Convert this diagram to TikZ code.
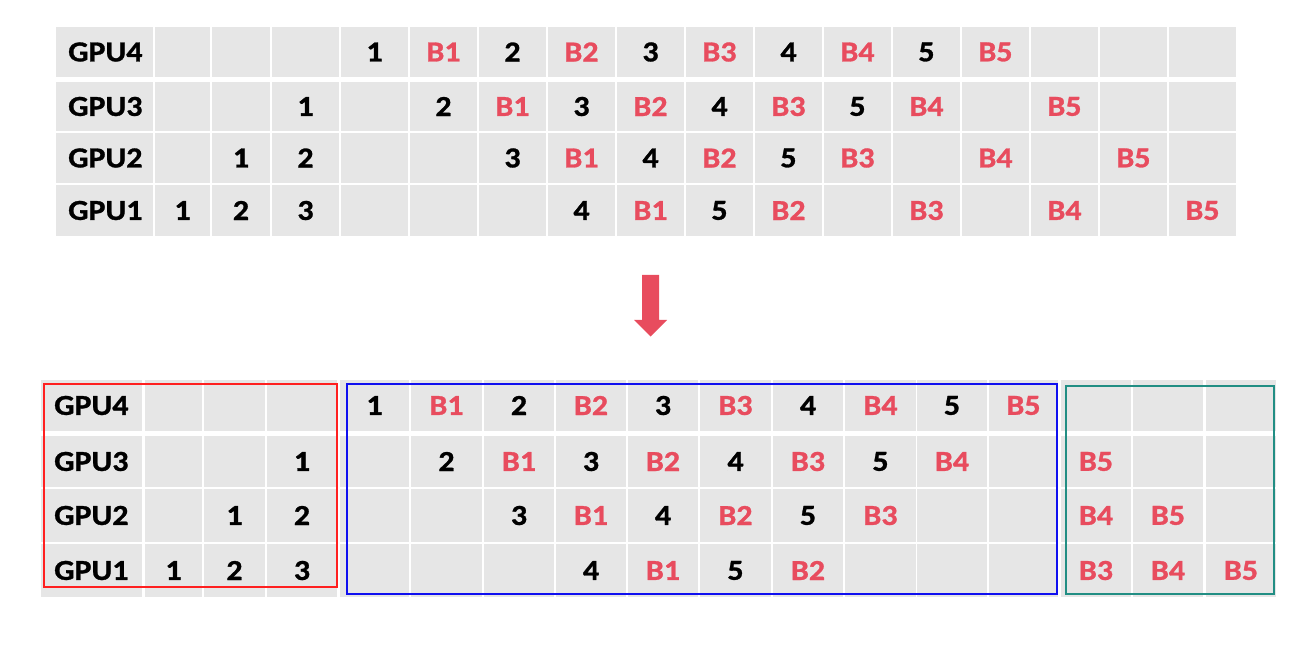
\documentclass[tikz,border=0pt]{standalone}
\usepackage{fontspec}
\setmainfont{Carlito}[FakeStretch=1.1, BoldFeatures={FakeBold=1}]
\definecolor{cellgray}{RGB}{230,230,230}
\definecolor{bred}{RGB}{232,76,94}
\definecolor{boxred}{RGB}{255,32,32}
\definecolor{boxblue}{RGB}{16,16,240}
\definecolor{boxteal}{RGB}{34,142,132}
\newcommand\redB[1]{\textcolor{bred}{B#1}}
\tikzset{
  celltext/.style={inner sep=0pt, font=\fontsize{29}{30}\selectfont\bfseries, text=black},
  gpulabel/.style={celltext, anchor=west},
  groupbox/.style={draw, line width=2pt, fill=none}
}
\begin{document}
\begin{tikzpicture}[x=1pt,y=-1pt]
\useasboundingbox (0,0) rectangle (1301,652);
% ---------- top table cells ----------
\foreach \yt/\yb in {27/77,82/131,133/183,185/236}{
  \foreach \xl/\xr in {56/153,155/210,212/270,272/339}{
    \fill[cellgray] (\xl,\yt) rectangle (\xr,\yb);}
  \foreach \k in {0,...,12}{
    \fill[cellgray] ({341+69*\k},\yt) rectangle ({408+69*\k},\yb);}
}
% ---------- top table text ----------
\foreach \r/\y/\items in {
  4/52/{{},{},{},1,\redB1,2,\redB2,3,\redB3,4,\redB4,5,\redB5,{},{},{}},
  3/106.5/{{},{},1,{},2,\redB1,3,\redB2,4,\redB3,5,\redB4,{},\redB5,{},{}},
  2/158/{{},1,2,{},{},3,\redB1,4,\redB2,5,\redB3,{},\redB4,{},\redB5,{}},
  1/210.5/{1,2,3,{},{},{},4,\redB1,5,\redB2,{},\redB3,{},\redB4,{},\redB5}}{
  \node[gpulabel] (tl\r) at (68,\y) {GPU\r};
  \foreach \e [count=\c] in \items {
    \pgfmathsetmacro\xc{{182.5,241,305.5,374.5,443.5,512.5,581.5,650.5,719.5,788.5,857.5,926.5,995.5,1064.5,1133.5,1202.5}[\c-1]}
    \node[celltext] (t\r-\c) at (\xc,\y) {\e};
  }
}
% ---------- arrow ----------
\fill[bred] (642,275) -- (659,275) -- (659,320) -- (667,320) -- (650.5,336.5) -- (634,320) -- (642,320) -- cycle;
% ---------- bottom table cells ----------
\foreach \yt/\yb in {380/431,436/487,489/542,544/597}{
  \foreach \xl/\xr in {41/142,145/202,204/265,267/337,340/409,411/482,484/554,556/626,628/698,700/771,773/843,845/916,917/987,989/1058,1061/1131,1133/1203,1206/1276}{
    \fill[cellgray] (\xl,\yt) rectangle (\xr,\yb);}
}
% ---------- bottom table text ----------
\foreach \r/\y/\items in {
  4/405.5/{{},{},{},1,\redB1,2,\redB2,3,\redB3,4,\redB4,5,\redB5,{},{},{}},
  3/461.5/{{},{},1,{},2,\redB1,3,\redB2,4,\redB3,5,\redB4,{},\redB5,{},{}},
  2/515.5/{{},1,2,{},{},3,\redB1,4,\redB2,5,\redB3,{},{},\redB4,\redB5,{}},
  1/570.5/{1,2,3,{},{},{},4,\redB1,5,\redB2,{},{},{},\redB3,\redB4,\redB5}}{
  \node[gpulabel] (bl\r) at (54,\y) {GPU\r};
  \foreach \e [count=\c] in \items {
    \pgfmathsetmacro\xc{{173.5,234.5,302,374.5,446.5,519,591,663,735.5,808,880.5,952,1023.5,1096,1168,1241}[\c-1]}
    \node[celltext] (b\r-\c) at (\xc,\y) {\e};
  }
}
% ---------- group boxes ----------
\draw[groupbox, boxred] (44,384) rectangle (337,587);
\draw[groupbox, boxblue] (347,384) rectangle (1057,594);
\draw[groupbox, boxteal] (1066,386) rectangle (1274,594);
\end{tikzpicture}
\end{document}
